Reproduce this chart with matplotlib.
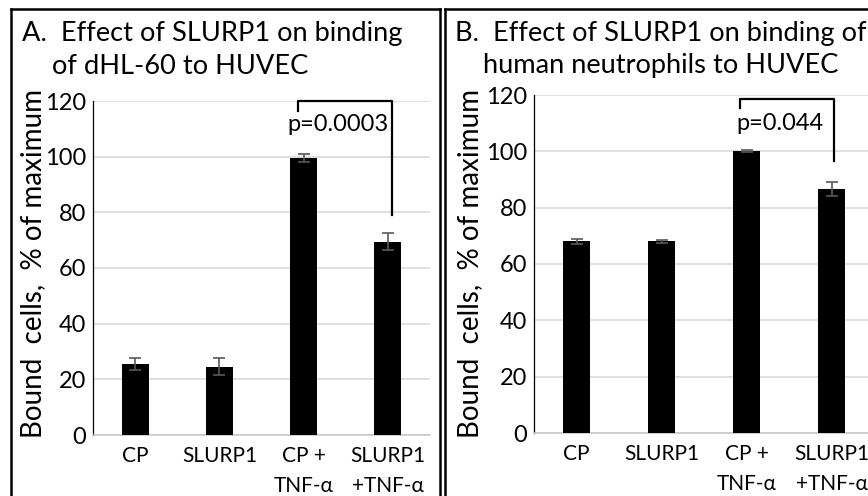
import matplotlib
matplotlib.use("Agg")
import matplotlib.pyplot as plt
from matplotlib.lines import Line2D

# Data
categories = ["CP", "SLURP1", "CP +\nTNF-\u03b1", "SLURP1\n+TNF-\u03b1"]
values_a = [25.5, 24.5, 99.5, 69.5]
errors_a = [2.0, 3.0, 1.5, 3.0]
values_b = [68.0, 68.0, 100.0, 86.5]
errors_b = [0.8, 0.5, 0.3, 2.5]
yticks = [0, 20, 40, 60, 80, 100, 120]

title_a = ["A.  Effect of SLURP1 on binding", "of dHL-60 to HUVEC"]
title_b = ["B.  Effect of SLURP1 on binding of", "human neutrophils to HUVEC"]
p_a = "p=0.0003"
p_b = "p=0.044"

MAIN_FONT = ["Lato", "DejaVu Sans"]
CAT_FONT = ["Lato", "DejaVu Sans"]

W, H = 868, 496
fig = plt.figure(figsize=(W / 100, H / 100), dpi=100)


def fx(px):
    return px / W


def fy(py):
    return 1 - py / H


def draw_panel(rect, values, errors, bracket, ptext, ptext_pos, ylabel_x):
    ax = fig.add_axes(rect)
    x = range(len(categories))
    ax.bar(x, values, width=0.32, color="black", zorder=3)
    ax.errorbar(x, values, yerr=errors, fmt="none", ecolor="#595959",
                elinewidth=1.2, capsize=4, capthick=1.2, zorder=4)
    ax.set_xlim(-0.5, 3.5)
    ax.set_ylim(0, 120)
    ax.set_yticks(yticks)
    ax.set_yticklabels([str(t) for t in yticks], fontsize=17, family=MAIN_FONT)
    ax.set_xticks(list(x))
    ax.set_xticklabels(categories, fontsize=15, family=CAT_FONT, linespacing=1.6)
    ax.tick_params(length=0, pad=5)
    ax.tick_params(axis="x", pad=8)
    ax.grid(axis="y", color="#d9d9d9", linewidth=1.2, zorder=0)
    for s in ["top", "right"]:
        ax.spines[s].set_visible(False)
    ax.spines["left"].set_color("black")
    ax.spines["left"].set_linewidth(0.9)
    ax.spines["bottom"].set_color("#c8c8c8")
    ax.spines["bottom"].set_linewidth(1.2)
    ax.set_axisbelow(True)

    # significance bracket
    x0, x1, ytop, yleft, yright = bracket
    ax.plot([x0, x0, x1, x1], [yleft, ytop, ytop, yright], color="black",
            linewidth=1.6, clip_on=False, zorder=5)
    ax.text(ptext_pos[0], ptext_pos[1], ptext, ha="center", va="center",
            fontsize=17, family=MAIN_FONT)

    fig.text(fx(ylabel_x), fy(264), "Bound  cells,  % of maximum", rotation=90,
             ha="center", va="center", fontsize=20, family=MAIN_FONT)
    return ax


draw_panel([fx(93), fy(435), fx(337), fy(101) - fy(435)], values_a, errors_a,
           (1.93, 3.05, 120, 116.5, 79), p_a, (2.41, 111.5), 33)
draw_panel([fx(534), fy(433), fx(340), fy(95) - fy(433)], values_b, errors_b,
           (1.92, 3.035, 118.5, 115.5, 96.5), p_b, (2.39, 110), 470)

# titles
fig.text(fx(22), fy(33), title_a[0], ha="left", va="center", fontsize=19.6, family=MAIN_FONT)
fig.text(fx(52), fy(66), title_a[1], ha="left", va="center", fontsize=19.6, family=MAIN_FONT)
fig.text(fx(455), fy(33), title_b[0], ha="left", va="center", fontsize=19.6, family=MAIN_FONT)
fig.text(fx(483), fy(66), title_b[1], ha="left", va="center", fontsize=19.6, family=MAIN_FONT)

# panel frames
frame = dict(color="black", linewidth=1.8, transform=fig.transFigure)
fig.add_artist(Line2D([fx(11), fx(11)], [fy(9), 0], **frame))
fig.add_artist(Line2D([fx(11), fx(440)], [fy(9), fy(9)], **frame))
fig.add_artist(Line2D([fx(440), fx(440)], [fy(9), 0], **frame))
fig.add_artist(Line2D([fx(445), fx(445)], [fy(9), 0], **frame))
fig.add_artist(Line2D([fx(445), 1], [fy(9), fy(9)], **frame))

fig.savefig("out.png", dpi=100)
